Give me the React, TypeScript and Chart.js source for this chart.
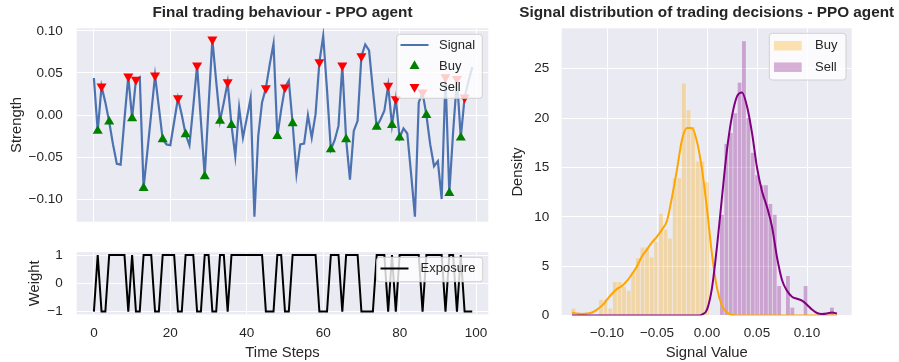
import React, { useEffect, useRef } from 'react';
import { Chart, registerables } from 'chart.js';

Chart.register(...registerables);

// ---------------- data ----------------
const signalValues = [
  0.044, -0.019, 0.034, 0.015, -0.008, -0.035, -0.058, -0.059, -0.005, 0.046,
  -0.004, 0.042, 0.045, -0.087, -0.043, 0.002, 0.047, 0.009, -0.029, -0.035,
  -0.036, -0.008, 0.020, 0.000, -0.023, -0.036, 0.010, 0.059, -0.007, -0.073,
  0.010, 0.090, 0.040, -0.007, 0.015, 0.039, -0.012, -0.049, 0.009, -0.027,
  -0.004, 0.020, -0.121, -0.025, 0.015, 0.032, 0.060, 0.085, -0.025, 0.006,
  0.033, 0.041, -0.010, -0.070, -0.035, -0.034, 0.000, -0.027, 0.001, 0.063,
  0.094, 0.030, -0.041, -0.030, -0.013, 0.059, -0.029, -0.077, -0.019, -0.007,
  0.070, 0.084, 0.077, 0.030, -0.014, -0.005, 0.005, 0.035, -0.012, 0.019,
  -0.027, -0.016, -0.022, -0.070, -0.121, 0.015, 0.027, 0.000, -0.035, -0.061,
  -0.055, -0.100, 0.045, -0.093, -0.020, 0.043, -0.027, 0.021, 0.040, 0.057,
];
const buySteps = [1, 4, 10, 13, 18, 24, 29, 33, 36, 48, 52, 62, 66, 74, 78, 80, 87, 93, 96];
const sellSteps = [2, 9, 11, 16, 22, 27, 31, 35, 45, 50, 59, 65, 70, 77, 79, 86, 92, 95, 97];
const exposureValues = [
  -1, 1, -1, -1, 1, 1, 1, 1, 1, -1,
  1, -1, -1, 1, 1, 1, -1, -1, 1, 1,
  1, 1, -1, -1, 1, 1, 1, -1, -1, 1,
  1, -1, -1, 1, 1, -1, 1, 1, 1, 1,
  1, 1, 1, 1, 1, -1, -1, -1, 1, 1,
  -1, -1, 1, 1, 1, 1, 1, 1, 1, -1,
  -1, -1, 1, 1, 1, -1, 1, 1, 1, 1,
  -1, -1, -1, -1, 1, 1, 1, -1, 1, -1,
  1, 1, 1, 1, 1, 1, -1, 1, 1, 1,
  1, 1, -1, 1, 1, -1, 1, -1, -1, -1,
];
const timeTicks = [0, 20, 40, 60, 80, 100];
const strengthTicks = [-0.1, -0.05, 0, 0.05, 0.1];
const weightTicks = [-1, 0, 1];

const buyBinCenters = [
  -0.1332, -0.1286, -0.1240, -0.1194, -0.1148, -0.1102, -0.1056, -0.1010, -0.0964, -0.0918,
  -0.0872, -0.0826, -0.0780, -0.0734, -0.0688, -0.0642, -0.0596, -0.0550, -0.0504, -0.0458,
  -0.0412, -0.0366, -0.0320, -0.0274, -0.0228, -0.0182, -0.0136, -0.0090, -0.0044, 0.0002,
];
const buyDensity = [
  0.7, 0, 0, 0, 0, 0, 1.6, 1.6, 0.7, 3.4,
  3.4, 2.9, 2.5, 4.4, 5.8, 6.9, 6.9, 5.9, 7.5, 10.3,
  8.7, 7.8, 13.9, 13.9, 23.5, 20.8, 19.1, 15.6, 15.6, 13.5,
];
const sellBinCenters = [
  0.0152, 0.0196, 0.0240, 0.0284, 0.0328, 0.0372, 0.0416, 0.0460, 0.0504, 0.0548,
  0.0592, 0.0636, 0.0680, 0.0724, 0.0768, 0.0812, 0.0856, 0.0900, 0.0944, 0.0988,
  0.1032, 0.1076, 0.1120, 0.1164, 0.1208, 0.1252,
];
const sellDensity = [
  10.2, 17.4, 18.5, 20.5, 23.6, 27.8, 20.0, 16.5, 14.2, 13.2,
  13.2, 11.3, 10.2, 3.0, 0, 4.0, 0.8, 0, 0, 3.0,
  0, 0, 0, 0, 0, 0.8,
];
const kdeGrid = [
  -0.135, -0.130, -0.125, -0.120, -0.115, -0.110, -0.105, -0.100, -0.095, -0.090,
  -0.085, -0.080, -0.075, -0.070, -0.065, -0.060, -0.055, -0.050, -0.045, -0.040,
  -0.035, -0.030, -0.025, -0.020, -0.015, -0.010, -0.005, 0.000, 0.005, 0.010,
  0.015, 0.020, 0.025, 0.030, 0.035, 0.040, 0.045, 0.050, 0.055, 0.060,
  0.065, 0.070, 0.075, 0.080, 0.085, 0.090, 0.095, 0.100, 0.105, 0.110,
  0.115, 0.120, 0.125, 0.130,
];
const buyKde = [
  0.30, 0.20, 0.15, 0.20, 0.30, 0.60, 1.00, 1.60, 2.20, 2.70,
  3.00, 3.50, 4.20, 5.00, 6.00, 6.70, 7.40, 8.00, 8.70, 9.60,
  12.0, 14.8, 17.8, 19.0, 19.0, 17.6, 14.8, 10.8, 6.2, 2.8,
  1.0, 0.3, 0.05, 0, 0, 0, 0, 0, 0, 0,
  0, 0, 0, 0, 0, 0, 0, 0, 0, 0,
  0, 0, 0, 0,
];
const sellKde = [
  0, 0, 0, 0, 0, 0, 0, 0, 0, 0,
  0, 0, 0, 0, 0, 0, 0, 0, 0, 0,
  0, 0, 0, 0, 0, 0, 0.1, 0.6, 2.8, 7.0,
  12.0, 16.8, 20.2, 22.2, 22.6, 21.2, 18.5, 15.0, 12.6, 11.0,
  9.0, 5.9, 3.6, 2.5, 1.9, 1.7, 1.5, 1.1, 0.6, 0.25,
  0.15, 0.2, 0.3, 0.2,
];
const signalValueTicks = [-0.1, -0.05, 0, 0.05, 0.1];
const densityTicks = [0, 5, 10, 15, 20, 25];

// ---------------- styling helpers ----------------
const FONT = '"Liberation Sans", Arial, Helvetica, sans-serif';
const TEXT = '#262626';
const BG = '#EAEAF2';
const tickFont = { family: FONT, size: 13.5 };
const labelFont = { family: FONT, size: 14.8 };

const signed = (v: number, d: number) => (v < 0 ? '\u2212' : '') + Math.abs(v).toFixed(d);
const fixedTicks = (vals: number[]) => (scale: any) => {
  scale.ticks = vals.map((v) => ({ value: v }));
};
const fixW = (w: number) => (scale: any) => {
  scale.width = w;
  scale.paddingTop = 0; scale.paddingBottom = 0; scale.paddingLeft = 0; scale.paddingRight = 0;
};
const fixH = (h: number) => (scale: any) => {
  scale.height = h;
  scale.paddingTop = 0; scale.paddingBottom = 0; scale.paddingLeft = 0; scale.paddingRight = 0;
};
const grid = { color: '#FFFFFF', lineWidth: 1, drawTicks: false };

type Item = { kind: 'line' | 'up' | 'down' | 'patch'; color: string; label: string };
type LegendCfg = { x: number; y: number; w: number; h: number; symX: number; symW: number; textX: number; rows: number[]; items: Item[] };

function tri(ctx: CanvasRenderingContext2D, cx: number, cy: number, r: number, down: boolean) {
  ctx.beginPath();
  for (let k = 0; k < 3; k++) {
    const a = (down ? Math.PI : 0) + (k * 2 * Math.PI) / 3;
    const px = cx + Math.sin(a) * r;
    const py = cy - Math.cos(a) * r;
    if (k === 0) ctx.moveTo(px, py); else ctx.lineTo(px, py);
  }
  ctx.closePath();
  ctx.fill();
}

function makeDecor(title: string, titleY: number, legend: LegendCfg) {
  return {
    id: 'decor',
    beforeDraw(chart: any) {
      const { ctx, chartArea: a } = chart;
      ctx.save();
      ctx.fillStyle = BG;
      ctx.fillRect(a.left, a.top, a.right - a.left, a.bottom - a.top);
      ctx.restore();
    },
    afterDraw(chart: any) {
      const { ctx, chartArea: a } = chart;
      ctx.save();
      ctx.font = `bold 15.3px ${FONT}`;
      ctx.fillStyle = TEXT;
      ctx.textAlign = 'center';
      ctx.textBaseline = 'middle';
      if (title) ctx.fillText(title, (a.left + a.right) / 2, titleY);

      const L = legend;
      const r = 3;
      ctx.beginPath();
      ctx.moveTo(L.x + r, L.y);
      ctx.lineTo(L.x + L.w - r, L.y);
      ctx.arcTo(L.x + L.w, L.y, L.x + L.w, L.y + r, r);
      ctx.lineTo(L.x + L.w, L.y + L.h - r);
      ctx.arcTo(L.x + L.w, L.y + L.h, L.x + L.w - r, L.y + L.h, r);
      ctx.lineTo(L.x + r, L.y + L.h);
      ctx.arcTo(L.x, L.y + L.h, L.x, L.y + L.h - r, r);
      ctx.lineTo(L.x, L.y + r);
      ctx.arcTo(L.x, L.y, L.x + r, L.y, r);
      ctx.closePath();
      ctx.fillStyle = 'rgba(255,255,255,0.8)';
      ctx.fill();
      ctx.strokeStyle = '#D0D0D0';
      ctx.lineWidth = 1;
      ctx.stroke();

      L.items.forEach((it, k) => {
        const cy = L.rows[k];
        if (it.kind === 'line') {
          ctx.strokeStyle = it.color;
          ctx.lineWidth = 2;
          ctx.beginPath();
          ctx.moveTo(L.symX, cy);
          ctx.lineTo(L.symX + L.symW, cy);
          ctx.stroke();
        } else if (it.kind === 'patch') {
          ctx.fillStyle = it.color;
          ctx.fillRect(L.symX, cy - 4.75, L.symW, 9.5);
        } else {
          ctx.fillStyle = it.color;
          tri(ctx, L.symX + L.symW / 2, cy, 5.8, it.kind === 'down');
        }
        ctx.fillStyle = TEXT;
        ctx.font = `13px ${FONT}`;
        ctx.textAlign = 'left';
        ctx.textBaseline = 'middle';
        ctx.fillText(it.label, L.textX, cy);
      });
      ctx.restore();
    },
  };
}

// ---------------- chart configs ----------------
function signalConfig(): any {
  return {
    type: 'line',
    data: {
      datasets: [
        {
          label: 'Signal',
          data: signalValues.map((v, i) => ({ x: i, y: v })),
          borderColor: '#4C72B0', borderWidth: 2.2, pointRadius: 0, tension: 0, order: 3,
        },
        {
          label: 'Buy',
          data: buySteps.map((i) => ({ x: i, y: signalValues[i] })),
          showLine: false, pointStyle: 'triangle', pointRadius: 5.8, pointBorderWidth: 0,
          pointBackgroundColor: '#008000', backgroundColor: '#008000', borderColor: '#008000', order: 2,
        },
        {
          label: 'Sell',
          data: sellSteps.map((i) => ({ x: i, y: signalValues[i] })),
          showLine: false, pointStyle: 'triangle', pointRotation: 180, pointRadius: 5.8, pointBorderWidth: 0,
          pointBackgroundColor: '#FF0000', backgroundColor: '#FF0000', borderColor: '#FF0000', order: 1,
        },
      ],
    },
    options: {
      responsive: false, animation: false, devicePixelRatio: 1,
      layout: { padding: { top: 28.3, right: 11.7, bottom: 0, left: 0 } },
      plugins: { legend: { display: false }, tooltip: { enabled: false } },
      scales: {
        x: {
          type: 'linear', min: -4.5, max: 103.2,
          afterBuildTicks: fixedTicks(timeTicks), afterFit: fixH(18.3),
          ticks: { display: false }, grid, border: { display: false },
        },
        y: {
          type: 'linear', min: -0.127, max: 0.1032,
          afterBuildTicks: fixedTicks(strengthTicks), afterFit: fixW(76.7),
          ticks: { font: tickFont, color: TEXT, padding: 14, callback: (v: number) => signed(v, 2) },
          grid, border: { display: false },
          title: { display: true, text: 'Strength', font: labelFont, color: TEXT, padding: { top: 8.5, bottom: 0 } },
        },
      },
    },
    plugins: [
      makeDecor('Final trading behaviour - PPO agent', 13, {
        x: 396.7, y: 34.3, w: 85.6, h: 64, symX: 400.5, symW: 28, textX: 439, rows: [45, 66, 87],
        items: [
          { kind: 'line', color: '#4C72B0', label: 'Signal' },
          { kind: 'up', color: '#008000', label: 'Buy' },
          { kind: 'down', color: '#FF0000', label: 'Sell' },
        ],
      }),
    ],
  };
}

function exposureConfig(): any {
  return {
    type: 'line',
    data: {
      datasets: [
        {
          label: 'Exposure',
          data: exposureValues.map((v, i) => ({ x: i, y: v })),
          borderColor: '#000000', borderWidth: 2, pointRadius: 0, tension: 0,
        },
      ],
    },
    options: {
      responsive: false, animation: false, devicePixelRatio: 1,
      layout: { padding: { top: 12.2, right: 11.7, bottom: 0, left: 0 } },
      plugins: { legend: { display: false }, tooltip: { enabled: false } },
      scales: {
        x: {
          type: 'linear', min: -4.5, max: 103.2,
          afterBuildTicks: fixedTicks(timeTicks), afterFit: fixH(47.6),
          ticks: { font: tickFont, color: TEXT, padding: 11.2, maxRotation: 0, callback: (v: number) => String(v) },
          grid, border: { display: false },
          title: { display: true, text: 'Time Steps', font: labelFont, color: TEXT, padding: { top: 0, bottom: 0 } },
        },
        y: {
          type: 'linear', min: -1.1, max: 1.1,
          afterBuildTicks: fixedTicks(weightTicks), afterFit: fixW(76.7),
          ticks: { font: tickFont, color: TEXT, padding: 14, callback: (v: number) => signed(v, 0) },
          grid, border: { display: false },
          title: { display: true, text: 'Weight', font: labelFont, color: TEXT, padding: { top: 26, bottom: 0 } },
        },
      },
    },
    plugins: [
      makeDecor('', 0, {
        x: 376.7, y: 17.3, w: 106, h: 24.4, symX: 380.5, symW: 28, textX: 420.5, rows: [28.5],
        items: [{ kind: 'line', color: '#000000', label: 'Exposure' }],
      }),
    ],
  };
}

function distributionConfig(): any {
  const barCommon = {
    barThickness: 'flex', barPercentage: 1, categoryPercentage: 1, grouped: true, stack: 'hist',
    borderWidth: { left: 0, right: 0.8, top: 0, bottom: 0 }, borderColor: 'rgba(255,255,255,0.3)',
    borderSkipped: false,
  };
  return {
    type: 'bar',
    data: {
      datasets: [
        {
          type: 'bar', label: 'Buy', ...barCommon,
          data: buyBinCenters.map((x, k) => ({ x, y: buyDensity[k] })),
          backgroundColor: 'rgba(255,165,0,0.3)', order: 4,
        },
        {
          type: 'bar', label: 'Sell', ...barCommon,
          data: sellBinCenters.map((x, k) => ({ x, y: sellDensity[k] })),
          backgroundColor: 'rgba(128,0,128,0.3)', order: 3,
        },
        {
          type: 'line', label: 'Buy KDE',
          data: kdeGrid.map((x, k) => ({ x, y: buyKde[k] })),
          borderColor: '#FFA500', borderWidth: 2, pointRadius: 0, cubicInterpolationMode: 'monotone', order: 2,
        },
        {
          type: 'line', label: 'Sell KDE',
          data: kdeGrid.map((x, k) => ({ x, y: sellKde[k] })),
          borderColor: '#800080', borderWidth: 2, pointRadius: 0, cubicInterpolationMode: 'monotone', order: 1,
        },
      ],
    },
    options: {
      responsive: false, animation: false, devicePixelRatio: 1,
      layout: { padding: { top: 28.3, right: 47.3, bottom: 0, left: 0 } },
      plugins: { legend: { display: false }, tooltip: { enabled: false } },
      scales: {
        x: {
          type: 'linear', min: -0.1453, max: 0.1447, offset: false,
          afterBuildTicks: fixedTicks(signalValueTicks), afterFit: fixH(46.5),
          ticks: { font: tickFont, color: TEXT, padding: 9.8, maxRotation: 0, callback: (v: number) => signed(v, 2) },
          grid: { ...grid, offset: false }, border: { display: false },
          title: { display: true, text: 'Signal Value', font: labelFont, color: TEXT, padding: { top: 0, bottom: 0 } },
        },
        y: {
          type: 'linear', min: 0, max: 29.1, stacked: false,
          afterBuildTicks: fixedTicks(densityTicks), afterFit: fixW(61.7),
          ticks: { font: tickFont, color: TEXT, padding: 12.4, callback: (v: number) => String(v) },
          grid, border: { display: false },
          title: { display: true, text: 'Density', font: labelFont, color: TEXT, padding: { top: 9.3, bottom: 0 } },
        },
      },
    },
    plugins: [
      makeDecor('Signal distribution of trading decisions - PPO agent', 13, {
        x: 269.3, y: 33.3, w: 76.7, h: 46.7, symX: 274, symW: 27.7, textX: 315, rows: [45.7, 67.2],
        items: [
          { kind: 'patch', color: 'rgba(255,165,0,0.3)', label: 'Buy' },
          { kind: 'patch', color: 'rgba(128,0,128,0.3)', label: 'Sell' },
        ],
      }),
    ],
  };
}

export default function App() {
  const aRef = useRef<HTMLCanvasElement>(null);
  const bRef = useRef<HTMLCanvasElement>(null);
  const cRef = useRef<HTMLCanvasElement>(null);

  useEffect(() => {
    const charts = [
      new Chart(aRef.current as HTMLCanvasElement, signalConfig()),
      new Chart(bRef.current as HTMLCanvasElement, exposureConfig()),
      new Chart(cRef.current as HTMLCanvasElement, distributionConfig()),
    ];
    return () => charts.forEach((c) => c.destroy());
  }, []);

  return (
    <div style={{ position: 'absolute', left: 0, top: 0, width: 899, height: 362, background: '#FFFFFF', overflow: 'hidden' }}>
      <canvas ref={aRef} width={500} height={240} style={{ position: 'absolute', left: 0, top: 0, width: 500, height: 240 }} />
      <canvas ref={bRef} width={500} height={122} style={{ position: 'absolute', left: 0, top: 240, width: 500, height: 122 }} />
      <canvas ref={cRef} width={399} height={362} style={{ position: 'absolute', left: 500, top: 0, width: 399, height: 362 }} />
    </div>
  );
}
